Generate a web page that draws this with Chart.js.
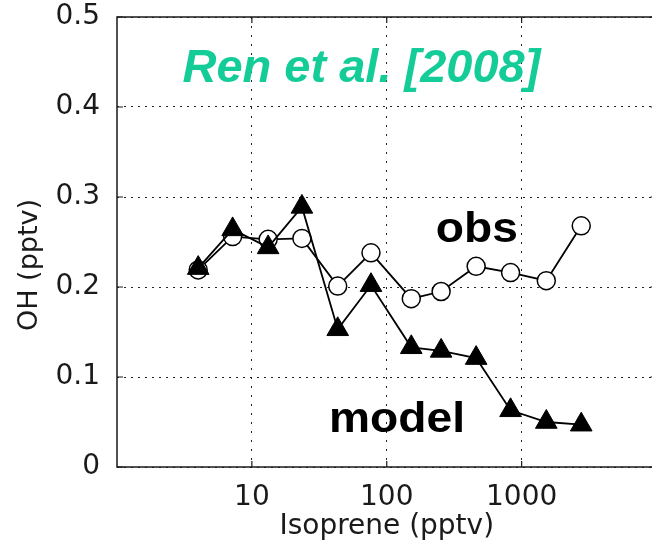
<!DOCTYPE html>
<html>
<head>
<meta charset="utf-8">
<script src="https://cdn.jsdelivr.net/npm/chart.js@4.4.1/dist/chart.umd.min.js"></script>
<style>
  html, body { margin: 0; padding: 0; background: #fff; overflow: hidden; }
  #wrap { width: 670px; height: 546px; }
</style>
</head>
<body>
<div id="wrap"><canvas id="ohChart" width="670" height="546"></canvas></div>
<script>
// isoprene bins (pptv) and mean OH (pptv)
const isoprene = [4, 7.2, 13.2, 23.5, 43.3, 76.4, 152, 253, 460, 828, 1524, 2767];
const ohObs = [0.219, 0.256, 0.253, 0.254, 0.201, 0.238, 0.187, 0.195, 0.223, 0.216, 0.207, 0.268];
const ohModel = [0.221, 0.264, 0.244, 0.289, 0.153, 0.202, 0.133, 0.129, 0.121, 0.063, 0.050, 0.047];
const xTicks = [10, 100, 1000];
const yTicks = [0, 0.1, 0.2, 0.3, 0.4, 0.5];

const FONT = '"Liberation Sans", Arial, Helvetica, sans-serif';
const AXIS_FONT = '"DejaVu Sans", "Liberation Sans", sans-serif';
const INK = "#1a1a1a";

const toPoints = (xs, ys) => xs.map((x, i) => ({ x: x, y: ys[i] }));

// frame, inward ticks and text labels
const overlay = {
    id: "overlay",
    afterDraw(chart) {
        const ctx = chart.ctx;
        const a = chart.chartArea;
        const xs = chart.scales.x;
        const ys = chart.scales.y;
        ctx.save();

        ctx.strokeStyle = INK;
        ctx.lineWidth = 1.5;
        ctx.setLineDash([]);
        ctx.strokeRect(a.left, a.top, a.right - a.left, a.bottom - a.top);

        ctx.lineWidth = 1.2;
        ctx.beginPath();
        xTicks.forEach(v => {
            const px = xs.getPixelForValue(v);
            ctx.moveTo(px, a.bottom); ctx.lineTo(px, a.bottom - 6);
            ctx.moveTo(px, a.top); ctx.lineTo(px, a.top + 6);
        });
        yTicks.forEach(v => {
            const py = ys.getPixelForValue(v);
            ctx.moveTo(a.left, py); ctx.lineTo(a.left + 6, py);
            ctx.moveTo(a.right, py); ctx.lineTo(a.right - 6, py);
        });
        ctx.stroke();

        // stretch > 1 widens the glyphs a little
        const text = (str, x, y, font, color, stretch) => {
            ctx.save();
            ctx.font = font;
            ctx.fillStyle = color;
            ctx.textAlign = "center";
            ctx.textBaseline = "alphabetic";
            ctx.translate(xs.getPixelForValue(x), ys.getPixelForValue(y));
            ctx.scale(stretch, 1);
            ctx.fillText(str, 0, 0);
            ctx.restore();
        };
        text("Ren et al. [2008]", 64.9, 0.428, "italic bold 47px " + FONT, "#14CC98", 1);
        text("obs", 466, 0.2503, "bold 42px " + FONT, "#000", 1.1);
        text("model", 119, 0.0392, "bold 42px " + FONT, "#000", 1.1);

        // y axis title
        ctx.translate(30, 265);
        ctx.rotate(-Math.PI / 2);
        ctx.font = "27px " + AXIS_FONT;
        ctx.fillStyle = INK;
        ctx.textAlign = "center";
        ctx.textBaseline = "middle";
        ctx.fillText("OH (pptv)", 0, 0);

        ctx.restore();
    }
};

const gridStyle = { color: "#222", lineWidth: 1, drawTicks: false };

new Chart(document.getElementById("ohChart"), {
    type: "scatter",
    data: {
        datasets: [
            {
                label: "model",
                data: toPoints(isoprene, ohModel),
                showLine: true,
                borderColor: "#000",
                borderWidth: 1.8,
                pointStyle: "triangle",
                pointRadius: 12.5,
                pointBackgroundColor: "#000",
                pointBorderColor: "#000",
                pointBorderWidth: 1,
                order: 0
            },
            {
                label: "obs",
                data: toPoints(isoprene, ohObs),
                showLine: true,
                borderColor: "#000",
                borderWidth: 1.8,
                pointStyle: "circle",
                pointRadius: 9,
                pointBackgroundColor: "#fff",
                pointBorderColor: "#000",
                pointBorderWidth: 1.5,
                order: 1
            }
        ]
    },
    options: {
        responsive: false,
        animation: false,
        layout: { padding: { top: 17, right: 9, left: 0, bottom: 0 } },
        plugins: { legend: { display: false }, tooltip: { enabled: false } },
        scales: {
            x: {
                type: "logarithmic",
                min: 1,
                max: 10000,
                afterBuildTicks: s => { s.ticks = xTicks.map(v => ({ value: v })); },
                afterFit: s => { s.height = 79; s.paddingLeft = 0; s.paddingRight = 0; },
                grid: gridStyle,
                border: { display: false, dash: [2, 7] },
                ticks: {
                    padding: 14,
                    color: INK,
                    font: { family: AXIS_FONT, size: 28 },
                    callback: v => String(v),
                    maxRotation: 0,
                    autoSkip: false
                },
                title: {
                    display: true,
                    text: "Isoprene (pptv)",
                    color: INK,
                    font: { family: AXIS_FONT, size: 28 },
                    padding: { top: 0, bottom: 2 }
                }
            },
            y: {
                min: 0,
                max: 0.5,
                afterBuildTicks: s => { s.ticks = yTicks.map(v => ({ value: v })); },
                afterFit: s => { s.width = 117; s.paddingTop = 0; s.paddingBottom = 0; },
                grid: gridStyle,
                border: { display: false, dash: [2, 5] },
                ticks: {
                    padding: 17,
                    color: INK,
                    font: { family: AXIS_FONT, size: 28 },
                    callback: v => (v === 0 ? "0" : v.toFixed(1))
                }
            }
        }
    },
    plugins: [overlay]
});
</script>
</body>
</html>
